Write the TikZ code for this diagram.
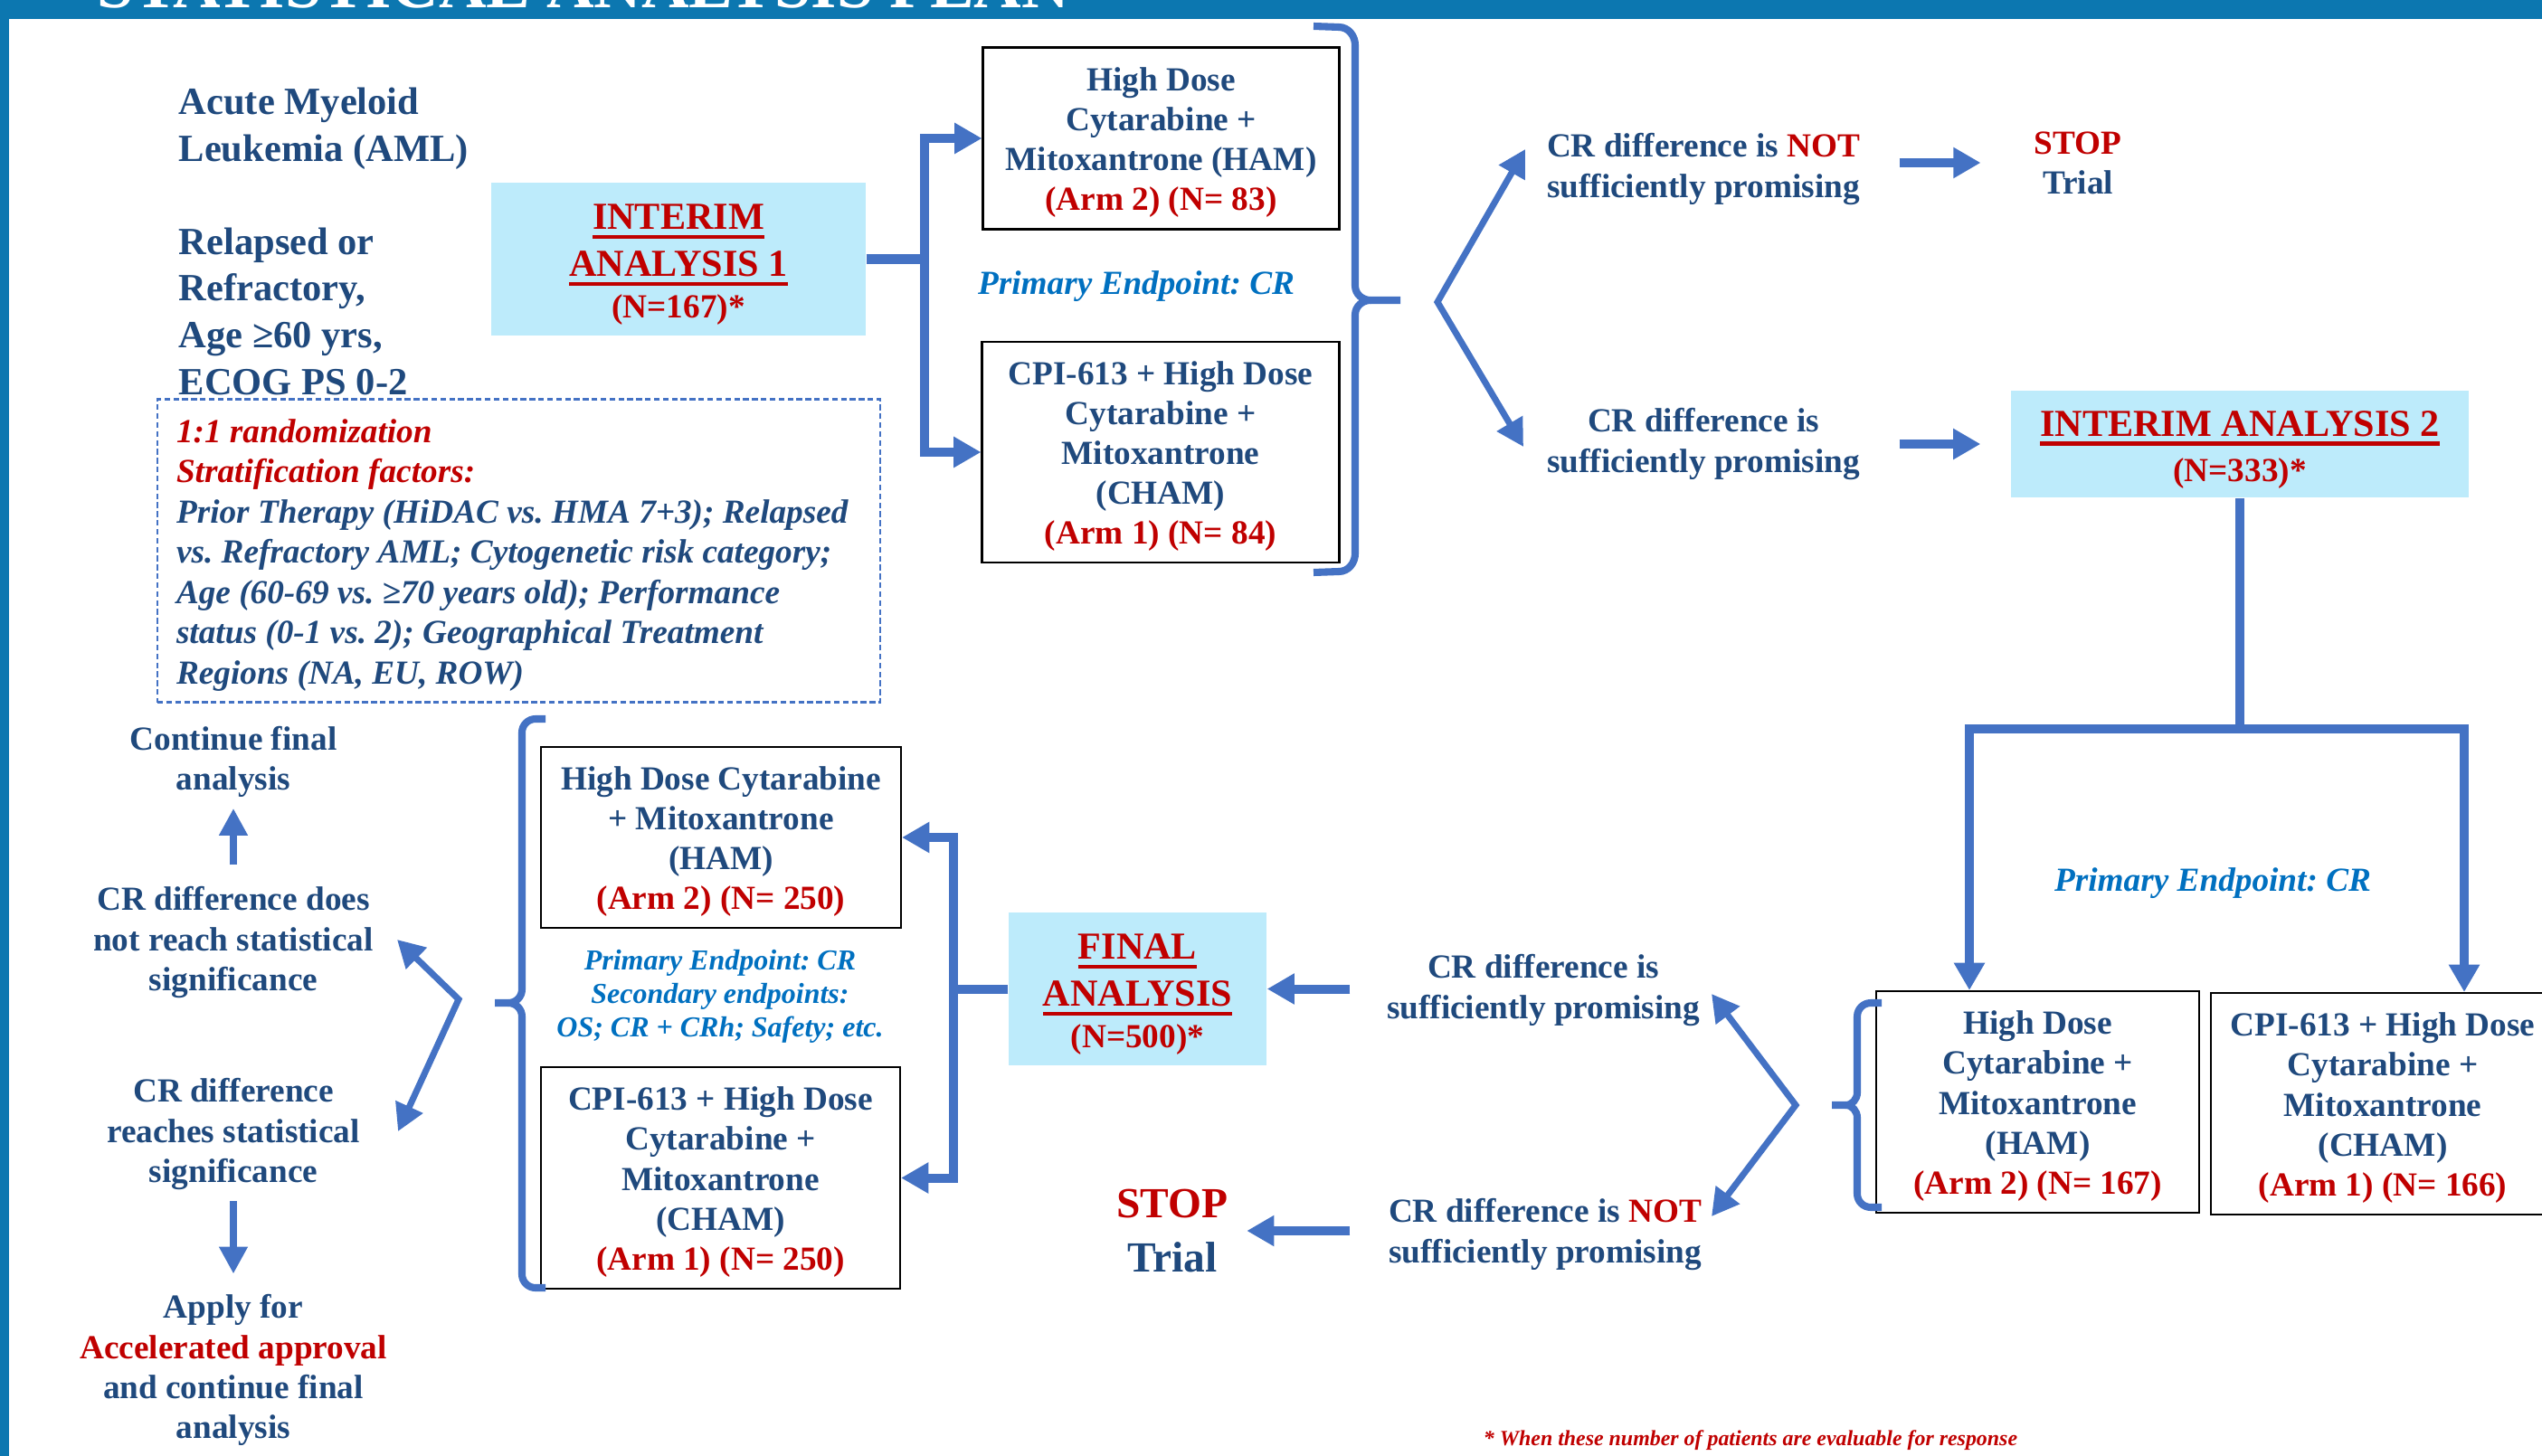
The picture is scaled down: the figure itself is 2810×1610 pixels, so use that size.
\documentclass[tikz,border=0pt]{standalone}
\usepackage{fontspec}
\setmainfont{Liberation Serif}
\usetikzlibrary{arrows.meta,calc}
\definecolor{txtblue}{HTML}{1F497D}
\definecolor{txtred}{HTML}{C00000}
\definecolor{arrblue}{HTML}{4472C4}
\definecolor{boxfill}{HTML}{BDEBFB}
\definecolor{barblue}{HTML}{0C77B0}
\definecolor{peblue}{HTML}{0070C0}
\frenchspacing
\hyphenpenalty=10000
\newcommand\thkul[1]{\setbox0\hbox{#1}\leavevmode\rlap{\rule[-3pt]{\wd0}{1.3pt}}\box0}
\newcommand\bodyfnt{\fontsize{10.6}{12.55}\selectfont\bfseries}
\newcommand\nfnt{\fontsize{10.6}{12}\selectfont}
\newcommand\astr{\rule{0pt}{3.5mm}}
\newcommand\bstr{\rule{0pt}{4.05mm}}
\tikzset{
  every node/.style={inner sep=0pt, text=txtblue},
  txt/.style={align=center, font=\bodyfnt},
  amltxt/.style={align=left, font=\fontsize{12.1}{14.7}\selectfont\bfseries},
  armbox/.style={draw=black, line width=0.6pt, align=center, font=\bodyfnt},
  anbox/.style={fill=boxfill, align=center, text=txtred, font=\fontsize{12}{14.8}\selectfont\bfseries},
  petxt/.style={text=peblue, align=center, font=\fontsize{10.6}{12.55}\selectfont\bfseries\itshape},
  conn/.style={draw=arrblue, line width=2.85pt},
  harr/.style={conn, -{Triangle[length=8.6pt,width=9.2pt]}},
  varr/.style={draw=arrblue, line width=2.5pt, -{Triangle[length=8.5pt,width=8.5pt]}},
  darr/.style={draw=arrblue, line width=2pt, line join=miter, {Triangle[length=8.5pt,width=9pt]}-{Triangle[length=8.5pt,width=9pt]}},
  brc/.style={draw=arrblue, line width=2.3pt}
}
\begin{document}
\begin{tikzpicture}[x=0.1mm,y=-0.1mm]
\useasboundingbox (0,0) rectangle (2810,1610);
\clip (0,0) rectangle (2810,1610);
\fill[white] (0,0) rectangle (2810,1610);
\fill[barblue] (0,0) rectangle (2810,21);
\fill[barblue] (0,0) rectangle (10,1610);
\node[anchor=base west, text=white, font=\fontsize{20.7}{24}\selectfont\bfseries] (title) at (107,9) {STATISTICAL ANALYSIS PLAN};

% left description
\node[amltxt, anchor=west] (aml1) at (197,142.5) {Acute Myeloid\\Leukemia (AML)};
\node[amltxt, anchor=west] (aml2) at (197,344) {Relapsed or\\Refractory,\\Age ≥60 yrs,\\ECOG PS 0-2};
\node[draw=arrblue, line width=0.6pt, dash pattern=on 1.8pt off 1pt, inner xsep=2.1mm, inner ysep=0pt, minimum width=79.9mm, minimum height=33.5mm, align=left, font=\fontsize{10.6}{12.66}\selectfont\bfseries\itshape] (strat) at (573.5,609)
 {\astr\makebox[75.7mm][l]{\textcolor{txtred}{1:1 randomization}}\\\textcolor{txtred}{Stratification factors:}\\Prior Therapy (HiDAC vs. HMA 7+3); Relapsed\\vs. Refractory AML; Cytogenetic risk category;\\Age (60-69 vs. ≥70 years old); Performance\\status (0-1 vs. 2); Geographical Treatment\\Regions (NA, EU, ROW)};

% interim analysis 1
\node[anbox, minimum width=41.4mm, minimum height=16.9mm] (ia1) at (750,286.5) {\bstr\thkul{INTERIM}\\\thkul{ANALYSIS 1}\\[-1.7pt]{\nfnt (N=167)*}};
\node[armbox, minimum width=39.4mm, minimum height=20.1mm] (ham1) at (1283.5,153) {\astr High Dose\\Cytarabine +\\Mitoxantrone (HAM)\\\textcolor{txtred}{(Arm 2) (N= 83)}};
\node[armbox, minimum width=39.5mm, minimum height=24.4mm] (cham1) at (1283,500) {\astr CPI-613 + High Dose\\Cytarabine +\\Mitoxantrone\\(CHAM)\\\textcolor{txtred}{(Arm 1) (N= 84)}};
\node[petxt] (pe1) at (1256,317) {Primary Endpoint: CR};
\path (ia1.east) ++(64,0) coordinate (j1);
\draw[conn] (ia1.east) -- (j1);
\draw[harr] (j1) |- (ham1.west);
\draw[harr] (j1) |- (cham1.west);

% brace 1
\draw[brc] (1452,29) -- (1480,30) to[out=0,in=90] (1498,50) -- (1498,316) to[out=-90,in=180] (1515,332) -- (1548,332);
\draw[brc] (1515,332) to[out=180,in=90] (1498,348) -- (1498,612) to[out=-90,in=0] (1480,632) -- (1452,633);
\coordinate (fk1) at (1589,334);
\coordinate (fk1a) at (1686,165);
\coordinate (fk1b) at (1684,494);
\draw[darr] (fk1a) -- (fk1) -- (fk1b);

\node[txt] (notprom1) at (1883,187) {CR difference is \textcolor{txtred}{NOT}\\sufficiently promising};
\node[txt] (prom1) at (1883,491) {CR difference is\\sufficiently promising};
\node[txt] (stop1) at (2297,180) {\textcolor{txtred}{STOP}\\Trial};
\node[anbox, minimum width=50.6mm, minimum height=11.8mm] (ia2) at (2476,491) {\bstr\thkul{INTERIM ANALYSIS 2}\\[-0.5pt]{\nfnt (N=333)*}};
\draw[harr, shorten <=4.3mm, shorten >=5.85mm] (notprom1.east |- stop1.west) -- (stop1.west);
\draw[harr, shorten <=4.3mm, shorten >=3.3mm] (prom1.east |- ia2.west) -- (ia2.west);

% interim 2 arms
\node[armbox, minimum width=35.7mm, minimum height=24.5mm] (hamR) at (2252.5,1218.5) {\astr High Dose\\Cytarabine +\\Mitoxantrone\\(HAM)\\\textcolor{txtred}{(Arm 2) (N= 167)}};
\node[armbox, minimum width=38mm, minimum height=24.5mm] (chamR) at (2634,1220.5) {\astr CPI-613 + High Dose\\Cytarabine +\\Mitoxantrone\\(CHAM)\\\textcolor{txtred}{(Arm 1) (N= 166)}};
\node[petxt] (pe2) at (2446,977) {Primary Endpoint: CR};
\path (ia2.south) ++(0,255) coordinate (j3);
\draw[harr] (ia2.south) -- (j3) -| ([xshift=-7.55mm]hamR.north);
\draw[harr] (j3) -| ([xshift=9mm]chamR.north);

% brace 2
\draw[brc] (2080,1109) -- (2068,1109) to[out=180,in=90] (2053,1124) -- (2053,1208) to[out=-90,in=0] (2040,1222) -- (2025,1222);
\draw[brc] (2040,1222) to[out=0,in=90] (2053,1236) -- (2053,1320) to[out=-90,in=180] (2068,1335) -- (2080,1335);
\coordinate (fk2) at (1985,1222);
\coordinate (fk2a) at (1892,1099);
\coordinate (fk2b) at (1892,1345);
\draw[darr] (fk2a) -- (fk2) -- (fk2b);

\node[txt] (prom2) at (1706,1095) {CR difference is\\sufficiently promising};
\node[txt] (notprom2) at (1708,1365) {CR difference is \textcolor{txtred}{NOT}\\sufficiently promising};

% final analysis
\node[anbox, minimum width=28.5mm, minimum height=16.9mm] (final) at (1257.5,1093.5) {\bstr\thkul{FINAL}\\\thkul{ANALYSIS}\\[-1.7pt]{\nfnt (N=500)*}};
\node[align=center, font=\fontsize{13.5}{16.8}\selectfont\bfseries] (stop2) at (1296,1361) {\textcolor{txtred}{STOP}\\Trial};
\draw[harr, shorten <=4mm] (prom2.west |- final.east) -- (final.east);
\draw[harr, shorten <=4.2mm, shorten >=2mm] (notprom2.west |- stop2.east) -- (stop2.east);

\node[armbox, minimum width=39.8mm, minimum height=20mm] (hamL) at (797,926) {\astr High Dose Cytarabine\\+ Mitoxantrone\\(HAM)\\\textcolor{txtred}{(Arm 2) (N= 250)}};
\node[armbox, minimum width=39.7mm, minimum height=24.5mm] (chamL) at (796.5,1302.5) {\astr CPI-613 + High Dose\\Cytarabine +\\Mitoxantrone\\(CHAM)\\\textcolor{txtred}{(Arm 1) (N= 250)}};
\node[petxt, font=\fontsize{9.1}{10.5}\selectfont\bfseries\itshape] (pe3) at (796,1102) {Primary Endpoint: CR\\Secondary endpoints:\\OS; CR + CRh; Safety; etc.};
\path (final.west) ++(-60,0) coordinate (j2);
\draw[conn] (final.west) -- (j2);
\draw[harr] (j2) |- (hamL.east);
\draw[harr] (j2) |- (chamL.east);

% brace 3
\draw[brc] (603,795) -- (592,795) to[out=180,in=90] (577,810) -- (577,1094) to[out=-90,in=0] (562,1109) -- (547,1109);
\draw[brc] (562,1109) to[out=0,in=90] (577,1124) -- (577,1409) to[out=-90,in=180] (592,1424) -- (603,1424);
\coordinate (fk3) at (507,1105);
\coordinate (fk3a) at (439,1039);
\coordinate (fk3b) at (440,1251);
\draw[darr] (fk3a) -- (fk3) -- (fk3b);

% left outcomes
\node[txt] (cont) at (258,842) {Continue final\\analysis};
\node[txt] (notsig) at (258,1042) {CR difference does\\not reach statistical\\significance};
\node[txt] (sig) at (258,1254) {CR difference\\reaches statistical\\significance};
\node[txt] (apply) at (258,1515) {Apply for\\\textcolor{txtred}{Accelerated approval}\\and continue final\\analysis};
\draw[varr, shorten <=2.35mm, shorten >=1.2mm] (notsig.north) -- (cont.south);
\draw[varr, shorten <=1.2mm, shorten >=2.25mm] (sig.south) -- (apply.north);

% footnote
\node[anchor=base, text=txtred, font=\fontsize{6.8}{8}\selectfont\bfseries\itshape] (foot) at (1935,1598) {* When these number of patients are evaluable for response};
\end{tikzpicture}
\end{document}
